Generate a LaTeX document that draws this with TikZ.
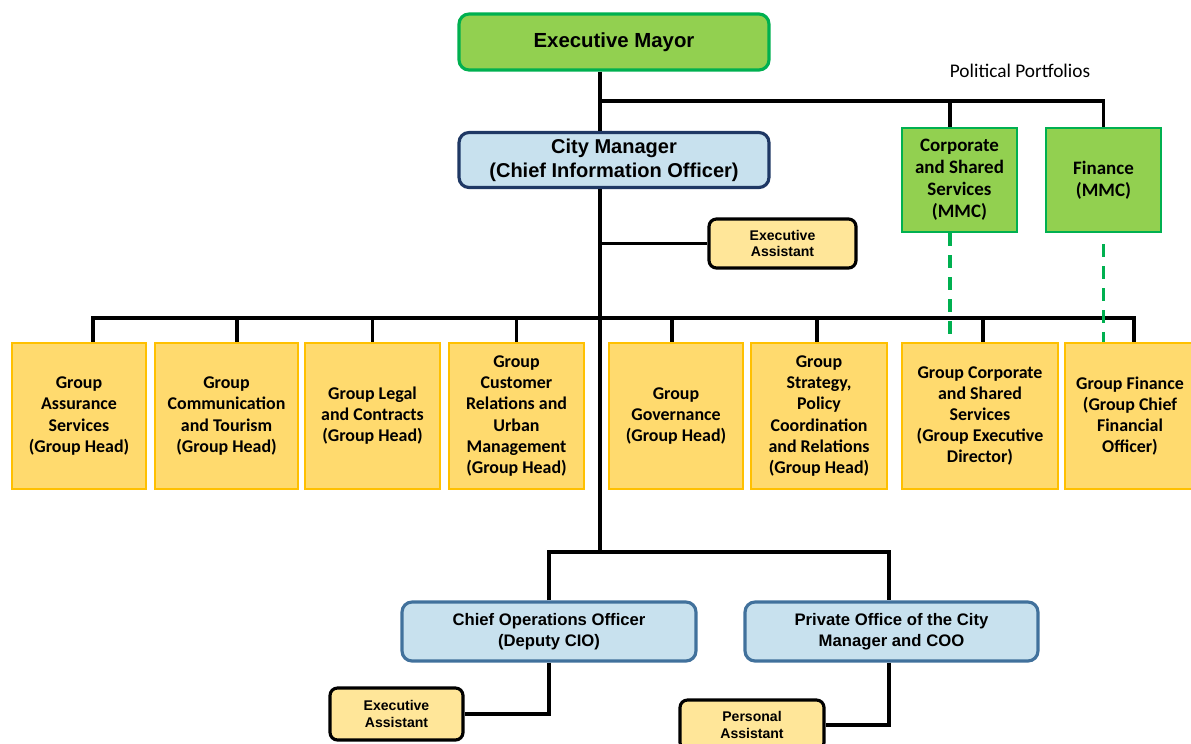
\documentclass[tikz,border=0pt]{standalone}
\usepackage{fontspec}
\setmainfont{Liberation Sans}
\newfontfamily\carlito{Carlito}
\usetikzlibrary{calc}

\definecolor{leafgreen}{RGB}{146,208,80}
\definecolor{darkgreen}{RGB}{0,176,80}
\definecolor{paleblue}{RGB}{200,225,238}
\definecolor{navy}{RGB}{31,56,100}
\definecolor{steelblue}{RGB}{65,113,156}
\definecolor{gold}{RGB}{255,192,0}
\definecolor{lightgold}{RGB}{255,218,110}
\definecolor{paleyellow}{RGB}{255,230,153}

\begin{document}
\begin{tikzpicture}[x=0.02cm, y=-0.02cm,
		conn/.style={line width=1.9pt, black},
		greendash/.style={line width=1.9pt, darkgreen, dash pattern=on 7.5pt off 5pt},
		topbox/.style={draw=darkgreen, fill=leafgreen, line width=1.8pt, rounded corners=0.2cm, minimum width=6.2cm, minimum height=1.12cm, align=center, font=\bfseries\fontsize{11.6}{13.6}\selectfont},
		bluebox/.style={draw=navy, fill=paleblue, line width=1.8pt, rounded corners=0.2cm, minimum width=6.2cm, minimum height=1.1cm, align=center, font=\bfseries\fontsize{11.4}{13.6}\selectfont},
		lowbox/.style={draw=steelblue, fill=paleblue, line width=1.8pt, rounded corners=0.2cm, minimum height=1.18cm, align=center, font=\bfseries\fontsize{9.5}{12}\selectfont},
		mmcbox/.style={draw=darkgreen, fill=leafgreen, line width=1.3pt, minimum width=2.3cm, minimum height=2.08cm, align=center, font=\carlito\bfseries\fontsize{10.8}{12.5}\selectfont},
		groupbox/.style={draw=gold, fill=lightgold, line width=1.3pt, minimum height=2.92cm, align=center, inner sep=0pt, font=\carlito\bfseries\fontsize{10.2}{12}\selectfont},
		assist/.style={draw=black, fill=paleyellow, line width=1.8pt, rounded corners=0.15cm, align=center, font=\bfseries\fontsize{8}{9.6}\selectfont}]
		%%%%% START %%%%%
		
		\useasboundingbox (0, 0) rectangle (1191, 744);
		
		\node[topbox] (mayor) at (614, 42) {Executive Mayor};
		\node[bluebox] (cm) at (614, 160) {City Manager\\(Chief Information Officer)};
		\node[assist, minimum width=2.94cm, minimum height=0.98cm] (ea1) at (782.5, 243.5) {Executive\\Assistant};
		
		\node[font=\carlito\fontsize{11}{13}\selectfont] (pp) at (1020, 71) {Political Portfolios};
		\node[mmcbox] (mmccs) at (959.5, 180) {Corporate\\and Shared\\Services\\(MMC)};
		\node[mmcbox] (mmcfin) at (1103.5, 180) {Finance\\(MMC)};
		
		\node[groupbox, minimum width=2.68cm] (g1) at (79, 416) {Group\\Assurance\\Services\\(Group Head)};
		\node[groupbox, minimum width=2.86cm] (g2) at (226.5, 416) {Group\\Communication\\and Tourism\\(Group Head)};
		\node[groupbox, minimum width=2.70cm] (g3) at (372.5, 416) {Group Legal\\and Contracts\\(Group Head)};
		\node[groupbox, minimum width=2.70cm] (g4) at (516.5, 416) {Group\\Customer\\Relations and\\Urban\\Management\\(Group Head)};
		\node[groupbox, minimum width=2.68cm] (g5) at (676, 416) {Group\\Governance\\(Group Head)};
		\node[groupbox, minimum width=2.72cm] (g6) at (819, 416) {Group\\Strategy,\\Policy\\Coordination\\and Relations\\(Group Head)};
		\node[groupbox, minimum width=3.12cm] (g7) at (980, 416) {Group Corporate\\and Shared\\Services\\(Group Executive\\Director)};
		\node[groupbox, minimum width=2.60cm] (g8) at (1130, 416) {Group Finance\\(Group Chief\\Financial\\Officer)};
		
		\node[lowbox, minimum width=5.88cm] (coo) at (549, 631.5) {Chief Operations Officer\\(Deputy CIO)};
		\node[lowbox, minimum width=5.86cm] (po) at (891.5, 631.5) {Private Office of the City\\Manager and COO};
		\node[assist, minimum width=2.66cm, minimum height=1.04cm] (ea2) at (396.5, 714) {Executive\\Assistant};
		\node[assist, minimum width=2.88cm, minimum height=1.0cm] (pa) at (752, 725) {Personal\\Assistant};
		
		% junctions on the main trunk
		\coordinate (j1) at (600, 101);
		\coordinate (j3) at (600, 318);
		\coordinate (j4) at (600, 552);
		
		\draw[conn] (mayor.south -| j1) -- (cm.north -| j1);
		\draw[conn] (j1) -| ([xshift=-0.19cm]mmccs.north);
		\draw[conn] (j1) -| (mmcfin.north);
		\draw[conn] (cm.south -| j1) -- (j4);
		\draw[conn] (ea1.west -| j1) -- (ea1.west);
		
		\draw[conn] ([xshift=0.28cm]g1.north) |- (j3) -| ([xshift=0.08cm]g8.north);
		\foreach \g/\s in {g2/0.21, g3/0, g4/0, g5/-0.08, g6/-0.04, g7/0.06}
			\draw[conn] ([xshift=\s cm]\g.north) -- ([xshift=\s cm]\g.north |- j3);
		
		\draw[greendash] ([xshift=-0.19cm]mmccs.south) -- ([xshift=-0.19cm]mmccs.south |- g7.north);
		\draw[greendash] ([yshift=-0.22cm]mmcfin.south) -- (mmcfin.south |- g8.north);
		
		\draw[conn] (coo.north) |- (j4) -| ([xshift=-0.05cm]po.north);
		\draw[conn] (coo.south) |- (ea2.east);
		\draw[conn] ([xshift=-0.05cm]po.south) |- (pa.east);
		
		%%%%% END %%%%%
	\end{tikzpicture}
\end{document}
